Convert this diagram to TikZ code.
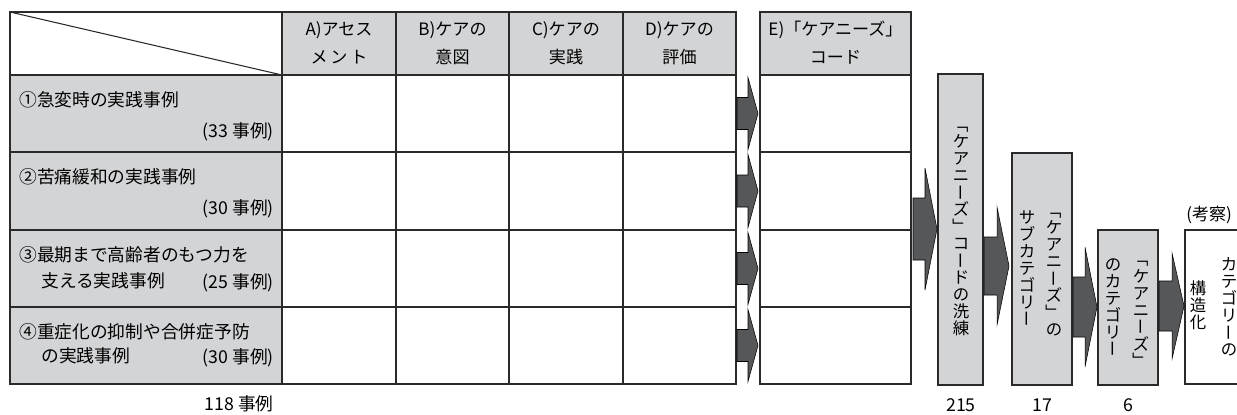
\documentclass[tikz,border=0pt]{standalone}
\usepackage{fontspec}
\setmainfont{Noto Sans CJK JP}
\usepackage{graphicx}
\definecolor{cellgray}{HTML}{D3D4D6}
\definecolor{arrowfill}{HTML}{555759}
\definecolor{linec}{HTML}{2A2A2A}
\newcommand\myhfont{\fontsize{12.8}{15}\selectfont}
\newcommand\mylfont{\fontsize{13.3}{16}\selectfont}
\newcommand\myvfont{\fontsize{12.3}{12.75}\selectfont}
\newcommand\vr[1]{\rotatebox[origin=c]{-90}{\rule[-0.12em]{0pt}{1em}#1}}
\newcommand\blockarrow[6]{%
  \filldraw[fill=arrowfill, draw=black, line width=0.4pt]
    (#1,#4-#5) -- (#2,#4-#5) -- (#2,#4-#6) -- (#3,#4) -- (#2,#4+#6)
    -- (#2,#4+#5) -- (#1,#4+#5) -- cycle;}
\begin{document}
\begin{tikzpicture}[x=0.75pt,y=-0.75pt,
  grid/.style={draw=linec, line width=1pt},
  gfill/.style={fill=cellgray},
  htext/.style={font=\myhfont, inner sep=0pt, text=black},
  ltext/.style={font=\mylfont, inner sep=0pt, text=black},
  vtext/.style={font=\myvfont, inner sep=0pt, align=center, text=black},
  ntext/.style={font=\mylfont, inner sep=0pt, text=black}]
\useasboundingbox (0,0) rectangle (1237,414);
\clip (0,0) rectangle (1237,414);
% ---------- main table fills ----------
\fill[gfill] (282,12) rectangle (736,75);
\fill[gfill] (10,75) rectangle (282,384);
\fill[gfill] (760,12) rectangle (911,75);
% ---------- main table grid ----------
\draw[grid] (10,12) rectangle (736,384);
\foreach \yy in {75,152,230,307} {\draw[grid] (10,\yy) -- (736,\yy);}
\foreach \xx in {282,396,509,623} {\draw[grid] (\xx,12) -- (\xx,384);}
\draw[linec, line width=0.8pt] (10,12) -- (282,75);
% ---------- E column ----------
\draw[grid] (760,12) rectangle (911,384);
\foreach \yy in {75,152,230,307} {\draw[grid] (760,\yy) -- (911,\yy);}
% ---------- header texts ----------
\node[htext] (ha1) at (339,30) {A)アセス};
\node[htext] (ha2) at (339,57) {メ\,ン\,ト};
\node[htext] (hb1) at (452.5,30) {B)ケアの};
\node[htext] (hb2) at (452.5,57) {意図};
\node[htext] (hc1) at (566,30) {C)ケアの};
\node[htext] (hc2) at (566,57) {実践};
\node[htext] (hd1) at (679.5,30) {D)ケアの};
\node[htext] (hd2) at (679.5,57) {評価};
\node[htext] (he1) at (835.5,30) {E)「ケアニーズ」};
\node[htext] (he2) at (835.5,57) {コード};
% ---------- row labels ----------
\node[ltext, anchor=west] (r1a) at (19,100) {①急変時の実践事例};
\node[ltext, anchor=east] (r1b) at (274,132) {(33 事例)};
\node[ltext, anchor=west] (r2a) at (19,177) {②苦痛緩和の実践事例};
\node[ltext, anchor=east] (r2b) at (274,209) {(30 事例)};
\node[ltext, anchor=west] (r3a) at (19,255) {③最期まで高齢者のもつ力を};
\node[ltext, anchor=west] (r3b) at (41,281) {支える実践事例};
\node[ltext, anchor=east] (r3c) at (274,283) {(25 事例)};
\node[ltext, anchor=west] (r4a) at (19,332) {④重症化の抑制や合併症予防};
\node[ltext, anchor=west] (r4b) at (41,356) {の実践事例};
\node[ltext, anchor=east] (r4c) at (274,358) {(30 事例)};
% ---------- small arrows D -> E ----------
\blockarrow{737}{748}{758}{113.5}{16}{36}
\blockarrow{737}{748}{758}{191}{16}{36.5}
\blockarrow{737}{748}{758}{268.5}{16}{36}
\blockarrow{737}{748}{758}{345.5}{16}{36}
% ---------- right-hand boxes ----------
\filldraw[gfill, grid] (938,74) rectangle (983,385);
\filldraw[gfill, grid] (1012,153) rectangle (1072,385);
\filldraw[gfill, grid] (1098,230) rectangle (1158,385);
\filldraw[fill=white, grid] (1185,230) rectangle (1260,384);
% ---------- big arrows ----------
\blockarrow{913}{925}{937}{229}{31}{61}
\blockarrow{984}{997}{1009}{266}{29}{59}
\blockarrow{1073}{1085}{1097}{307}{30}{60}
\blockarrow{1159}{1172}{1184}{306}{25}{53}
% ---------- vertical texts ----------
\node[vtext] (v1) at (961,226) {\vr{「}\\ケ\\ア\\ニ\\\vr{ー}\\ズ\\\vr{」}\\コ\\\vr{ー}\\ド\\の\\洗\\練};
\node[vtext] (v2r) at (1054,269) {\vr{「}\\ケ\\ア\\ニ\\\vr{ー}\\ズ\\\vr{」}\\の};
\node[vtext] (v2l) at (1027,269) {サ\\ブ\\カ\\テ\\ゴ\\リ\\\vr{ー}};
\node[vtext] (v3r) at (1141,310) {\vr{「}\\ケ\\ア\\ニ\\\vr{ー}\\ズ\\\vr{」}};
\node[vtext] (v3l) at (1113,308) {の\\カ\\テ\\ゴ\\リ\\\vr{ー}};
\node[vtext] (v4r) at (1229,307) {カ\\テ\\ゴ\\リ\\\vr{ー}\\の};
\node[vtext] (v4l) at (1198,305) {構\\造\\化};
\node[htext, anchor=west] (kosatsu) at (1186,215) {(考察)};
% ---------- counts ----------
\node[ntext] (n118) at (239,404) {118 事例};
\node[ntext] (n215) at (961,405) {215};
\node[ntext] (n17) at (1042,405) {17};
\node[ntext] (n6) at (1128,405) {6};
\end{tikzpicture}
\end{document}
